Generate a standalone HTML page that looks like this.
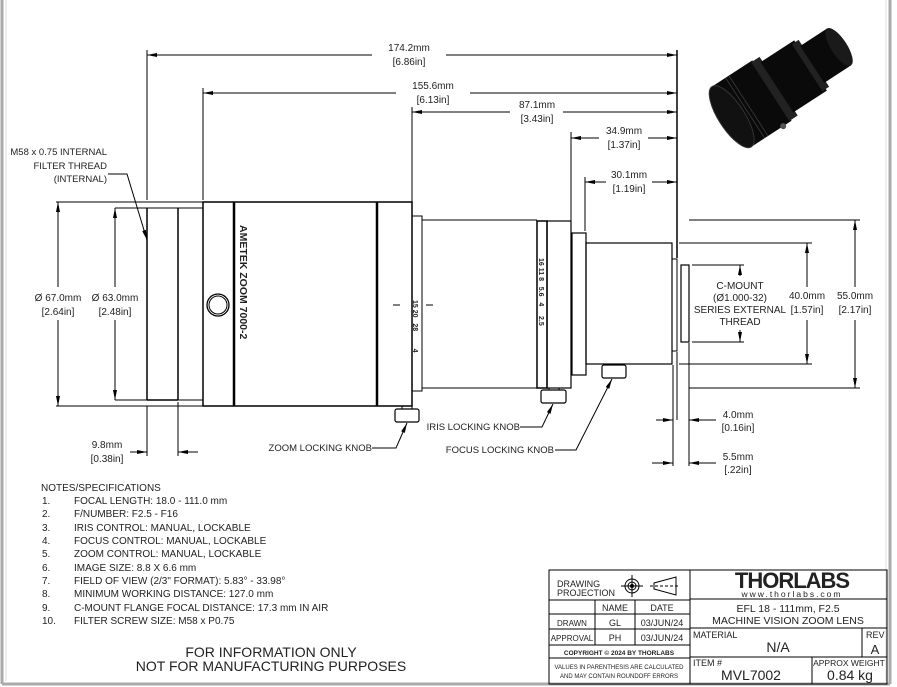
<!DOCTYPE html>
<html><head><style>
html,body{margin:0;padding:0;background:#fff;}
svg{display:block;font-family:"Liberation Sans",sans-serif;}
text{fill:#222;}
</style></head><body>
<svg width="897" height="687" viewBox="0 0 897 687" xmlns="http://www.w3.org/2000/svg">
<defs>
<marker id="a" viewBox="0 0 10 4" refX="10" refY="2" markerWidth="10" markerHeight="4" markerUnits="userSpaceOnUse" orient="auto-start-reverse"><path d="M0,0L10,2L0,4z" fill="#000"/></marker>
</defs>
<rect x="0" y="0" width="897" height="687" fill="#fff"/>
<line x1="2" y1="0" x2="2" y2="684" stroke="#aaa" stroke-width="3"/>
<line x1="890" y1="0" x2="890" y2="684" stroke="#aaa" stroke-width="3"/>
<line x1="2" y1="684" x2="890" y2="684" stroke="#aaa" stroke-width="3"/>
<line x1="6" y1="0" x2="6" y2="681" stroke="#ddd" stroke-width="1"/>
<line x1="886" y1="0" x2="886" y2="681" stroke="#ddd" stroke-width="1"/>

<g stroke="#000" fill="none" stroke-width="1">
<line x1="56" y1="202" x2="203" y2="202"/>
<line x1="56" y1="406" x2="203" y2="406"/>
<line x1="115" y1="208" x2="203" y2="208"/>
<line x1="115" y1="400" x2="203" y2="400"/>
<line x1="147" y1="208" x2="147" y2="400" stroke-width="1.5"/>
<line x1="178" y1="208" x2="178" y2="400" stroke-width="1.5"/>
<line x1="147" y1="400" x2="178" y2="400" stroke-width="1.5"/>
<rect x="203" y="202" width="209" height="204" stroke-width="1.5"/>
<line x1="234" y1="202" x2="234" y2="406" stroke-width="2.5"/>
<line x1="377" y1="202" x2="377" y2="406" stroke-width="2.5"/>
<circle cx="218" cy="305" r="11" stroke-width="1.3"/>
<circle cx="218" cy="305" r="9"/>
<rect x="412" y="216" width="10" height="175"/>
<rect x="395" y="409" width="24" height="13" rx="2" stroke-width="1.2"/>
<line x1="402" y1="406" x2="402" y2="409"/><line x1="412" y1="406" x2="412" y2="409"/>
<line x1="422" y1="220" x2="537" y2="220"/>
<line x1="422" y1="388" x2="537" y2="388"/>
<rect x="537" y="221" width="10" height="167" stroke-width="1.5"/>
<rect x="547" y="221" width="24" height="167" stroke-width="1.2"/>
<rect x="572" y="233" width="14" height="142" stroke-width="1.2"/>
<rect x="586" y="243" width="86" height="121" stroke-width="1.2"/>
<rect x="672" y="259" width="5" height="92"/>
<rect x="681" y="265" width="8" height="77" stroke-width="1.2"/>
<rect x="602" y="365" width="24" height="13" rx="2" stroke-width="1.2"/>
<rect x="541" y="390" width="25" height="13" rx="2" stroke-width="1.2"/>
<line x1="549" y1="388" x2="549" y2="390"/><line x1="559" y1="388" x2="559" y2="390"/>
<line x1="393" y1="305" x2="400" y2="305"/><line x1="426" y1="305" x2="433" y2="305"/>

<line x1="147" y1="50" x2="147" y2="200"/>
<line x1="203" y1="88" x2="203" y2="200"/>
<line x1="412" y1="107" x2="412" y2="214"/>
<line x1="571" y1="132" x2="571" y2="231"/>
<line x1="585" y1="177" x2="585" y2="231"/>
<line x1="677" y1="50" x2="677" y2="258" stroke-width="1.5"/>
<line x1="677" y1="352" x2="677" y2="420"/>
<line x1="673" y1="365" x2="673" y2="466"/>
<line x1="689" y1="343" x2="689" y2="466"/>
<line x1="147" y1="55" x2="372" y2="55" marker-start="url(#a)"/><line x1="446" y1="55" x2="677" y2="55" marker-end="url(#a)"/>
<line x1="203" y1="93" x2="396" y2="93" marker-start="url(#a)"/><line x1="470" y1="93" x2="677" y2="93" marker-end="url(#a)"/>
<line x1="412" y1="112" x2="510" y2="112" marker-start="url(#a)"/><line x1="563" y1="112" x2="677" y2="112" marker-end="url(#a)"/>
<line x1="571" y1="138" x2="599" y2="138" marker-start="url(#a)"/><line x1="648" y1="138" x2="677" y2="138" marker-end="url(#a)"/>
<line x1="585" y1="182" x2="606" y2="182" marker-start="url(#a)"/><line x1="652" y1="182" x2="677" y2="182" marker-end="url(#a)"/>
<line x1="58" y1="202" x2="58" y2="287" marker-start="url(#a)"/><line x1="58" y1="320" x2="58" y2="406" marker-end="url(#a)"/>
<line x1="115" y1="208" x2="115" y2="287" marker-start="url(#a)"/><line x1="115" y1="320" x2="115" y2="400" marker-end="url(#a)"/>
<line x1="147" y1="406" x2="147" y2="456"/><line x1="178" y1="402" x2="178" y2="456"/>
<line x1="130" y1="452" x2="147" y2="452" marker-end="url(#a)"/><line x1="198" y1="452" x2="178" y2="452" marker-end="url(#a)"/>
<line x1="689" y1="220" x2="860" y2="220"/><line x1="689" y1="388" x2="860" y2="388"/>
<line x1="679" y1="243" x2="812" y2="243"/><line x1="679" y1="364" x2="812" y2="364"/>
<line x1="692" y1="265" x2="744" y2="265"/><line x1="692" y1="342" x2="744" y2="342"/>
<line x1="855" y1="220" x2="855" y2="287" marker-start="url(#a)"/><line x1="855" y1="320" x2="855" y2="388" marker-end="url(#a)"/>
<line x1="807" y1="243" x2="807" y2="287" marker-start="url(#a)"/><line x1="807" y1="320" x2="807" y2="364" marker-end="url(#a)"/>
<line x1="740" y1="265" x2="740" y2="276" marker-start="url(#a)"/><line x1="740" y1="330" x2="740" y2="342" marker-end="url(#a)"/>
<line x1="656" y1="420" x2="673" y2="420" marker-end="url(#a)"/><line x1="716" y1="420" x2="689" y2="420" marker-end="url(#a)"/>
<line x1="652" y1="463" x2="673" y2="463" marker-end="url(#a)"/><line x1="716" y1="463" x2="689" y2="463" marker-end="url(#a)"/>
<polyline points="108,174 127,174 147,240" marker-end="url(#a)"/>
<polyline points="372,448 396,448 407,423" marker-end="url(#a)"/>
<polyline points="520,427 542,427 553,404" marker-end="url(#a)"/>
<polyline points="555,450 576,450 612,379" marker-end="url(#a)"/>
</g>

<text transform="translate(240,225) rotate(90)" font-size="10.5" font-weight="bold" fill="#000">AMETEK ZOOM 7000-2</text>
<g font-size="7" fill="#000" font-weight="bold">
<text transform="translate(413,300) rotate(90)">15 20 &#160;&#160;28 &#160;&#160;&#160;&#160;&#160;&#160;&#160;&#160;4</text>
<text transform="translate(539,258) rotate(90)">16 11 8 &#160;&#160;5.6 &#160;&#160;4 &#160;&#160;&#160;&#160;2.5</text>
</g>

<g font-size="10" text-anchor="middle">
<text x="409" y="51">174.2mm</text><text x="409" y="65">[6.86in]</text>
<text x="433" y="89">155.6mm</text><text x="433" y="103">[6.13in]</text>
<text x="537" y="108">87.1mm</text><text x="537" y="122">[3.43in]</text>
<text x="624" y="134">34.9mm</text><text x="624" y="148">[1.37in]</text>
<text x="629" y="178">30.1mm</text><text x="629" y="192">[1.19in]</text>
<text x="58" y="301">Ø 67.0mm</text><text x="58" y="315">[2.64in]</text>
<text x="115" y="301">Ø 63.0mm</text><text x="115" y="315">[2.48in]</text>
<text x="107" y="448">9.8mm</text><text x="107" y="462">[0.38in]</text>
<text x="740" y="289">C-MOUNT</text><text x="740" y="301">(Ø1.000-32)</text><text x="740" y="313">SERIES EXTERNAL</text><text x="740" y="325">THREAD</text>
<text x="807" y="299">40.0mm</text><text x="807" y="313">[1.57in]</text>
<text x="855" y="299">55.0mm</text><text x="855" y="313">[2.17in]</text>
<text x="738" y="418">4.0mm</text><text x="738" y="431">[0.16in]</text>
<text x="738" y="460">5.5mm</text><text x="738" y="473">[.22in]</text>
</g>
<g font-size="9.5">
<text x="107" y="155" text-anchor="end">M58 x 0.75 INTERNAL</text>
<text x="107" y="169" text-anchor="end">FILTER THREAD</text>
<text x="107" y="182" text-anchor="end">(INTERNAL)</text>
<text x="372" y="451" text-anchor="end">ZOOM LOCKING KNOB</text>
<text x="520" y="430" text-anchor="end">IRIS LOCKING KNOB</text>
<text x="554" y="453" text-anchor="end">FOCUS LOCKING KNOB</text>
</g>

<g font-size="10">
<text x="41" y="491">NOTES/SPECIFICATIONS</text>
<text x="42" y="504">1.</text><text x="74" y="504">FOCAL LENGTH: 18.0 - 111.0 mm</text>
<text x="42" y="517">2.</text><text x="74" y="517">F/NUMBER: F2.5 - F16</text>
<text x="42" y="531">3.</text><text x="74" y="531">IRIS CONTROL: MANUAL, LOCKABLE</text>
<text x="42" y="544">4.</text><text x="74" y="544">FOCUS CONTROL: MANUAL, LOCKABLE</text>
<text x="42" y="557">5.</text><text x="74" y="557">ZOOM CONTROL: MANUAL, LOCKABLE</text>
<text x="42" y="571">6.</text><text x="74" y="571">IMAGE SIZE: 8.8 X 6.6 mm</text>
<text x="42" y="584">7.</text><text x="74" y="584">FIELD OF VIEW (2/3" FORMAT): 5.83° - 33.98°</text>
<text x="42" y="597">8.</text><text x="74" y="597">MINIMUM WORKING DISTANCE: 127.0 mm</text>
<text x="42" y="611">9.</text><text x="74" y="611">C-MOUNT FLANGE FOCAL DISTANCE: 17.3 mm IN AIR</text>
<text x="42" y="624">10.</text><text x="74" y="624">FILTER SCREW SIZE: M58 x P0.75</text>
</g>
<g font-size="14" text-anchor="middle">
<text x="271" y="657">FOR INFORMATION ONLY</text>
<text x="271" y="671">NOT FOR MANUFACTURING PURPOSES</text>
</g>

<g stroke="#000" fill="none" stroke-width="1">
<rect x="549" y="570" width="338" height="114"/>
<line x1="690" y1="570" x2="690" y2="684"/>
<line x1="549" y1="600" x2="690" y2="600"/>
<line x1="549" y1="614" x2="690" y2="614"/>
<line x1="549" y1="629" x2="690" y2="629"/>
<line x1="549" y1="645" x2="690" y2="645"/>
<line x1="549" y1="658" x2="690" y2="658"/>
<line x1="595" y1="600" x2="595" y2="645"/>
<line x1="635" y1="600" x2="635" y2="645"/>
<line x1="690" y1="599" x2="887" y2="599"/>
<line x1="690" y1="628" x2="887" y2="628"/>
<line x1="690" y1="657" x2="887" y2="657"/>
<line x1="862" y1="628" x2="862" y2="657"/>
<line x1="812" y1="657" x2="812" y2="684"/>
<circle cx="632" cy="586" r="7"/><circle cx="632" cy="586" r="4"/><circle cx="632" cy="586" r="1.5" fill="#000"/>
<line x1="621" y1="586" x2="643" y2="586"/><line x1="632" y1="575" x2="632" y2="597"/>
<path d="M654,583 L676,577 L676,595 L654,589 Z"/>
<line x1="650" y1="586" x2="680" y2="586" stroke-dasharray="3,2"/>
</g>
<g font-size="9">
<text x="557" y="587">DRAWING</text><text x="557" y="596">PROJECTION</text>
<text x="615" y="611" text-anchor="middle">NAME</text><text x="662" y="611" text-anchor="middle">DATE</text>
<text x="572" y="626" text-anchor="middle" font-size="8">DRAWN</text><text x="615" y="626" text-anchor="middle">GL</text><text x="662" y="626" text-anchor="middle">03/JUN/24</text>
<text x="572" y="641" text-anchor="middle" font-size="8">APPROVAL</text><text x="615" y="641" text-anchor="middle">PH</text><text x="662" y="641" text-anchor="middle">03/JUN/24</text>
<text x="619" y="655" text-anchor="middle" font-size="6.5" font-weight="bold">COPYRIGHT © 2024 BY THORLABS</text>
<text x="619" y="669" text-anchor="middle" font-size="6">VALUES IN PARENTHESIS ARE CALCULATED</text>
<text x="619" y="678" text-anchor="middle" font-size="6">AND MAY CONTAIN ROUNDOFF ERRORS</text>
<text x="792" y="588" text-anchor="middle" font-size="22" font-weight="bold" fill="#000" letter-spacing="-1">THORLABS</text>
<text x="792" y="597" text-anchor="middle" font-size="8.5" letter-spacing="2">www.thorlabs.com</text>
<text x="788" y="612" text-anchor="middle" font-size="10.5">EFL 18 - 111mm, F2.5</text>
<text x="788" y="624" text-anchor="middle" font-size="10.5">MACHINE VISION ZOOM LENS</text>
<text x="693" y="638">MATERIAL</text>
<text x="778" y="652" text-anchor="middle" font-size="14">N/A</text>
<text x="866" y="638">REV</text><text x="875" y="654" text-anchor="middle" font-size="13">A</text>
<text x="693" y="666">ITEM #</text>
<text x="751" y="680" text-anchor="middle" font-size="14">MVL7002</text>
<text x="849" y="666" text-anchor="middle" font-size="8.5">APPROX WEIGHT</text>
<text x="850" y="680" text-anchor="middle" font-size="14">0.84 kg</text>
</g>

<g transform="translate(782,84) rotate(-33)">
<rect x="-60" y="-36" width="48" height="72" fill="#0a0a0a"/>
<rect x="-14" y="-35" width="10" height="70" fill="#222"/>
<rect x="-6" y="-30" width="40" height="60" fill="#0a0a0a"/>
<rect x="30" y="-28" width="8" height="56" fill="#222"/>
<rect x="36" y="-22" width="32" height="44" fill="#0a0a0a"/>
<ellipse cx="68" cy="0" rx="8" ry="22" fill="#1a1a1a"/>
<ellipse cx="-60" cy="0" rx="13" ry="36" fill="#111" stroke="#333" stroke-width="1"/>
<line x1="-44" y1="-36" x2="-44" y2="36" stroke="#333"/>
<line x1="-40" y1="-36" x2="-40" y2="36" stroke="#333"/>
<circle cx="-22" cy="36" r="3" fill="#555"/>
</g>
</svg>
</body></html>
